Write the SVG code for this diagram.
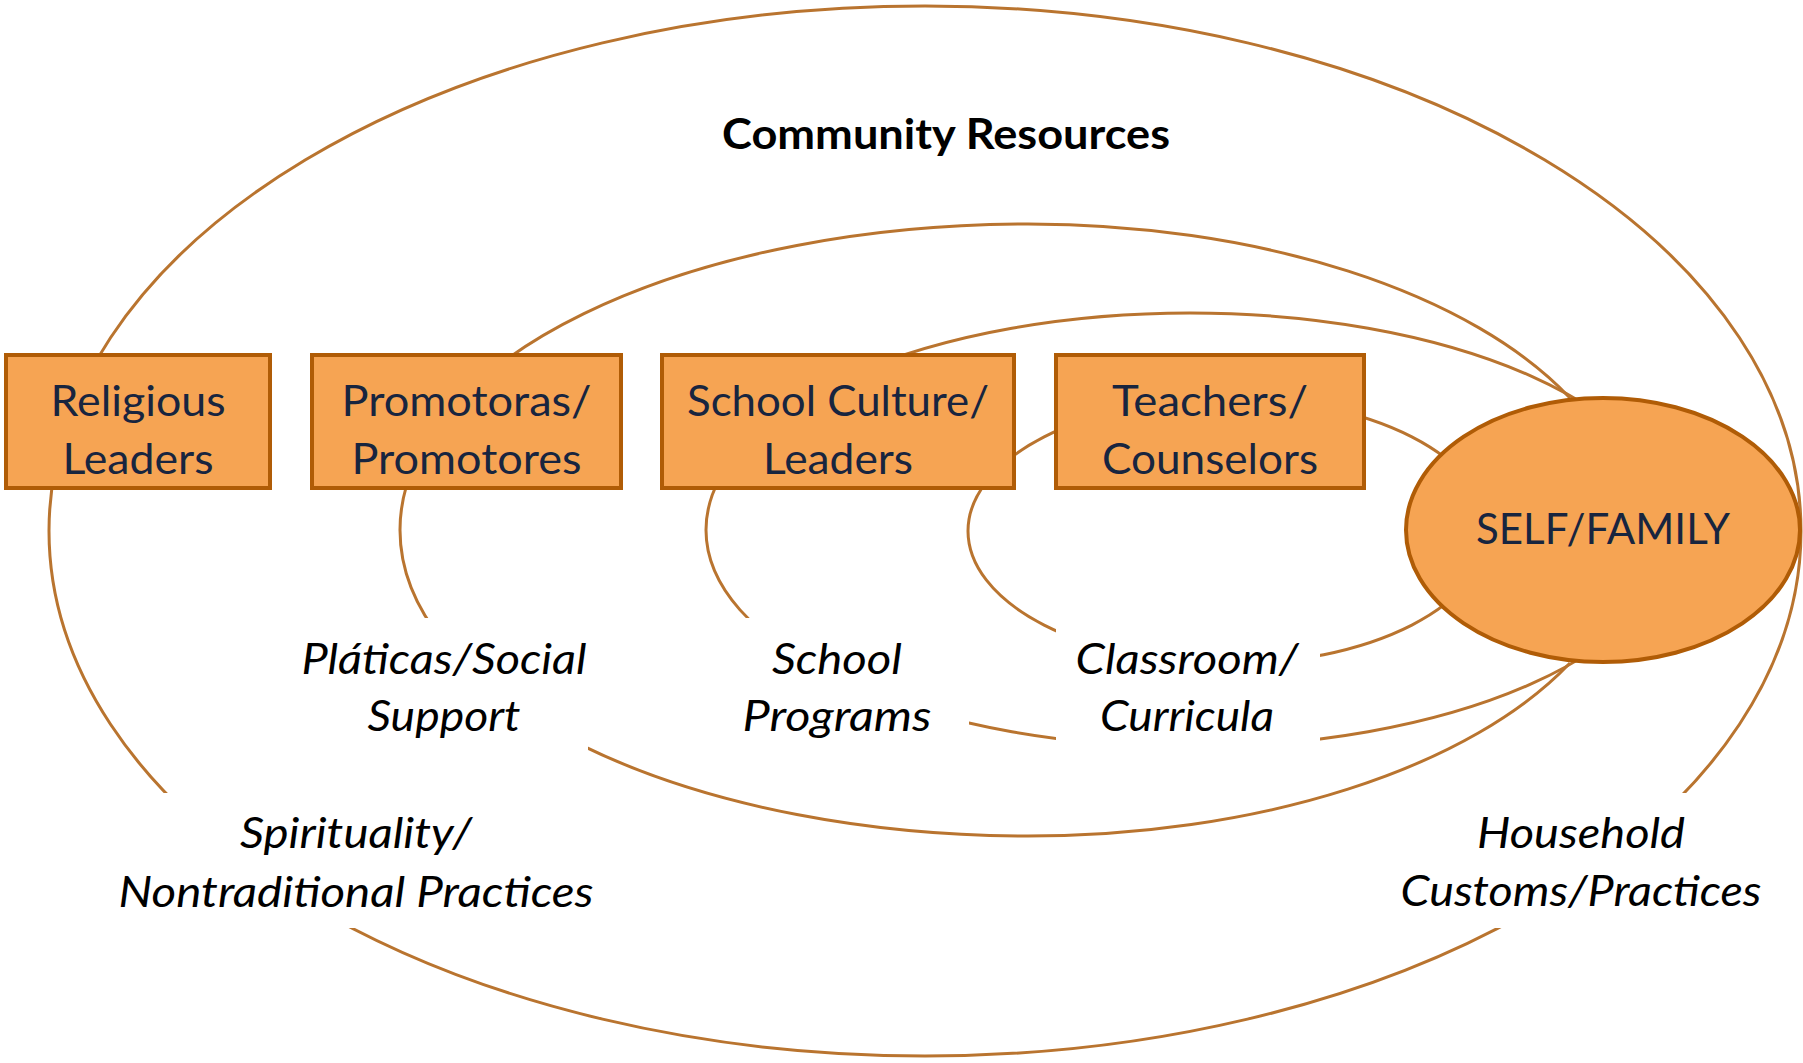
<svg xmlns="http://www.w3.org/2000/svg" width="1803" height="1063" viewBox="0 0 1803 1063">
  <style>
    .conn { fill: none; stroke: #B9742F; stroke-width: 3; }
    .box { fill: #F6A453; stroke: #B05C06; stroke-width: 4; }
    .btxt { font-family: "Lato", "Open Sans", sans-serif; font-size: 42px; fill: #18253F; text-anchor: middle; }
    .lbl { font-family: "Lato", "Open Sans", sans-serif; font-size: 42px; font-style: italic; fill: #000000; text-anchor: middle; }
    .title { font-family: "Lato", "Open Sans", sans-serif; font-size: 42px; font-weight: bold; fill: #000000; text-anchor: middle; }
  </style>
  <defs>
    <mask id="labelGaps" maskUnits="userSpaceOnUse" x="0" y="0" width="1803" height="1063">
      <rect x="0" y="0" width="1803" height="1063" fill="#ffffff"/>
      <rect x="290" y="618" width="298" height="135" fill="#000000"/>
      <rect x="707" y="618" width="262" height="135" fill="#000000"/>
      <rect x="1056" y="626" width="264" height="134" fill="#000000"/>
      <rect x="115" y="793" width="483" height="135" fill="#000000"/>
      <rect x="1390" y="793" width="380" height="135" fill="#000000"/>
    </mask>
  </defs>
  <rect x="0" y="0" width="1803" height="1063" fill="#ffffff"/>

  <g id="connectors" mask="url(#labelGaps)">
    <ellipse class="conn" cx="925" cy="531" rx="876" ry="525"/>
    <path class="conn" d="M 1570 398 A 601 306 0 0 0 1028 224 A 628 306 0 0 0 400 530 A 628 306 0 0 0 1028 836 A 602 306 0 0 0 1570 663"/>
    <ellipse class="conn" cx="1190" cy="530" rx="484" ry="217"/>
    <ellipse class="conn" cx="1228" cy="531" rx="260" ry="133"/>
  </g>

  <g id="node-religious-leaders">
    <rect class="box" x="6" y="355" width="264" height="133"/>
    <text class="btxt" x="138" y="416" textLength="175" lengthAdjust="spacingAndGlyphs">Religious</text>
    <text class="btxt" x="138" y="474" textLength="151" lengthAdjust="spacingAndGlyphs">Leaders</text>
  </g>
  <g id="node-promotoras">
    <rect class="box" x="312" y="355" width="309" height="133"/>
    <text class="btxt" x="466.5" y="416" textLength="250" lengthAdjust="spacingAndGlyphs">Promotoras/</text>
    <text class="btxt" x="466.5" y="474" textLength="230" lengthAdjust="spacingAndGlyphs">Promotores</text>
  </g>
  <g id="node-school-culture">
    <rect class="box" x="662" y="355" width="352" height="133"/>
    <text class="btxt" x="838" y="416" textLength="302" lengthAdjust="spacingAndGlyphs">School Culture/</text>
    <text class="btxt" x="838" y="474" textLength="150" lengthAdjust="spacingAndGlyphs">Leaders</text>
  </g>
  <g id="node-teachers">
    <rect class="box" x="1056" y="355" width="308" height="133"/>
    <text class="btxt" x="1210" y="416" textLength="196" lengthAdjust="spacingAndGlyphs">Teachers/</text>
    <text class="btxt" x="1210" y="474" textLength="216" lengthAdjust="spacingAndGlyphs">Counselors</text>
  </g>
  <g id="node-self-family">
    <ellipse class="box" cx="1603" cy="530" rx="197" ry="132"/>
    <text class="btxt" x="1603" y="544" font-size="44" textLength="254" lengthAdjust="spacingAndGlyphs">SELF/FAMILY</text>
  </g>

  <g id="label-community-resources">
    <text class="title" x="946" y="149" textLength="448" lengthAdjust="spacingAndGlyphs">Community Resources</text>
  </g>
  <g id="label-platicas">
    <text class="lbl" x="444" y="674" textLength="285" lengthAdjust="spacingAndGlyphs">Pláticas/Social</text>
    <text class="lbl" x="444" y="731" textLength="153" lengthAdjust="spacingAndGlyphs">Support</text>
  </g>
  <g id="label-school-programs">
    <text class="lbl" x="837" y="674" textLength="130" lengthAdjust="spacingAndGlyphs">School</text>
    <text class="lbl" x="837" y="731" textLength="189" lengthAdjust="spacingAndGlyphs">Programs</text>
  </g>
  <g id="label-classroom">
    <text class="lbl" x="1187" y="674" textLength="223" lengthAdjust="spacingAndGlyphs">Classroom/</text>
    <text class="lbl" x="1187" y="731" textLength="174" lengthAdjust="spacingAndGlyphs">Curricula</text>
  </g>
  <g id="label-spirituality">
    <text class="lbl" x="356" y="848" textLength="232" lengthAdjust="spacingAndGlyphs">Spirituality/</text>
    <text class="lbl" x="356" y="907" textLength="475" lengthAdjust="spacingAndGlyphs">Nontraditional Practices</text>
  </g>
  <g id="label-household">
    <text class="lbl" x="1581" y="848" textLength="208" lengthAdjust="spacingAndGlyphs">Household</text>
    <text class="lbl" x="1581" y="906" textLength="361" lengthAdjust="spacingAndGlyphs">Customs/Practices</text>
  </g>
</svg>
